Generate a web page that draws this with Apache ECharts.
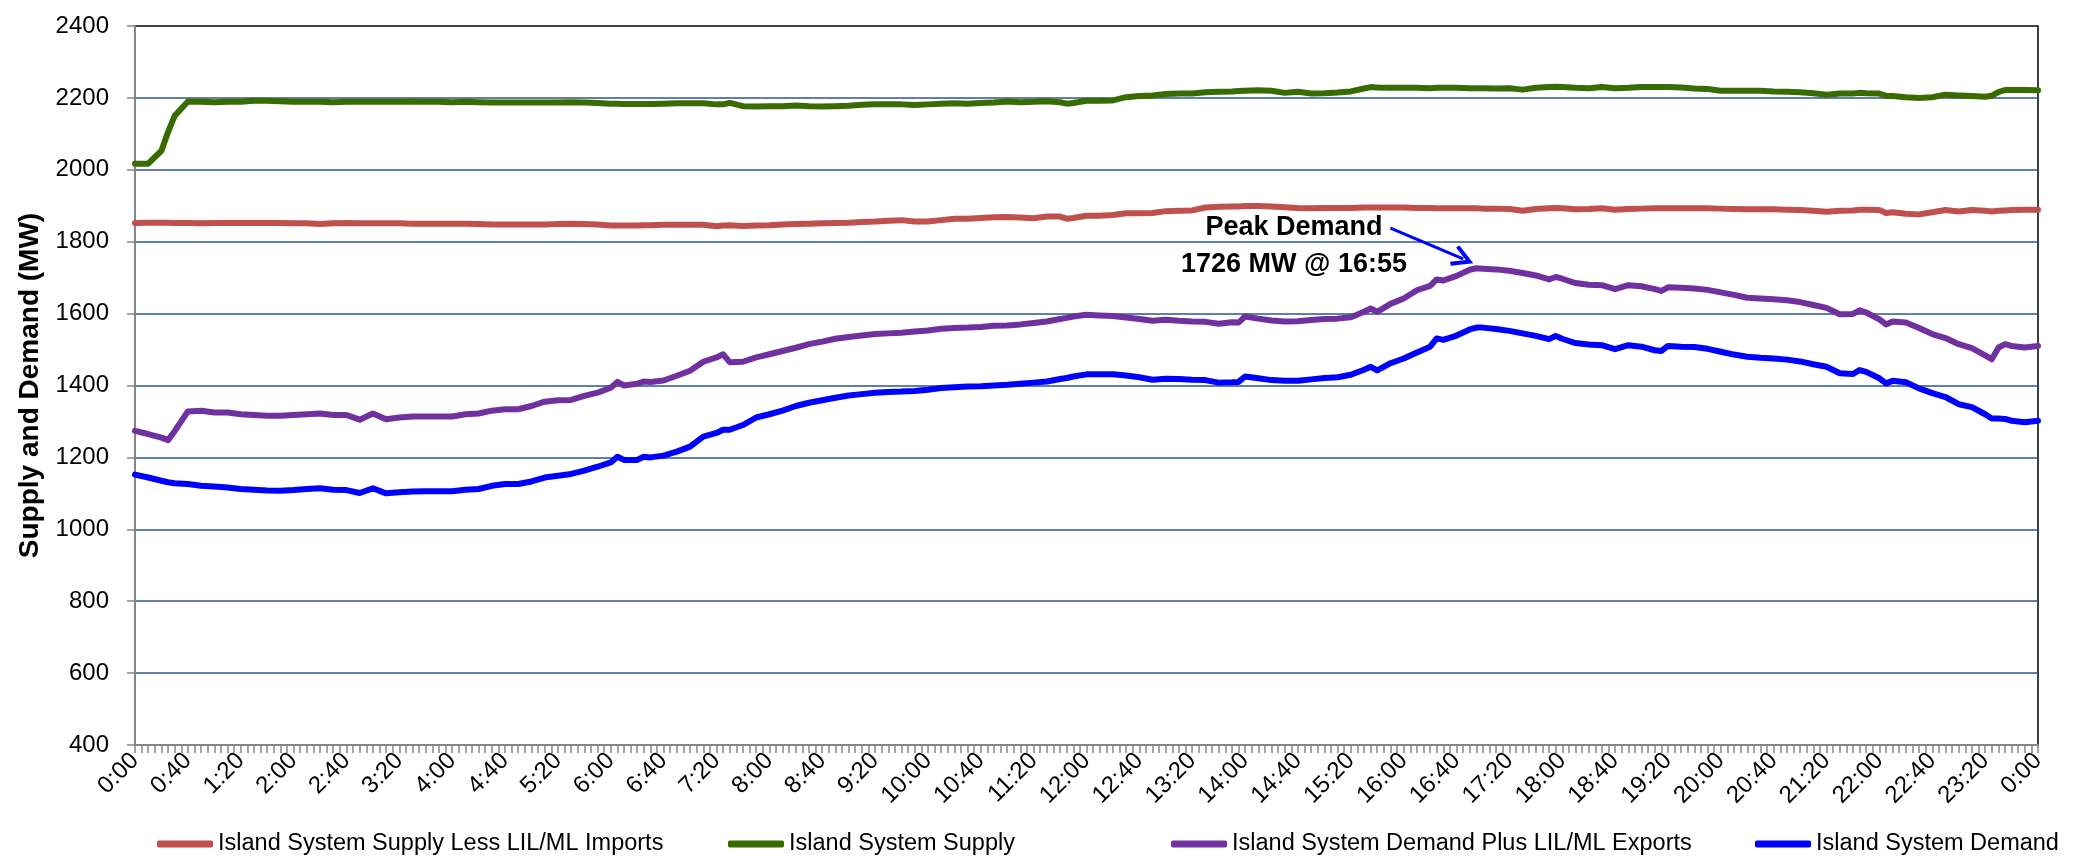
<!DOCTYPE html>
<html>
<head>
<meta charset="utf-8">
<title>Island System Supply and Demand</title>
<script src="https://cdn.jsdelivr.net/npm/echarts@6/dist/echarts.min.js"></script>
<style>
  html, body { margin: 0; padding: 0; background: #fff; }
  #chart { width: 2082px; height: 856px; }
</style>
</head>
<body>
<div id="chart"></div>
<script>
// reading times (H:MM) - 10 min steps, plus a few extra points where the lines dip or spike
var times = [
  '0:00','0:10','0:20','0:25','0:30','0:40','0:50','1:00','1:10','1:20','1:30','1:40','1:50','2:00','2:10','2:20','2:30','2:40','2:50','3:00','3:10','3:20','3:30','3:40','3:50','4:00',
  '4:10','4:20','4:30','4:40','4:50','5:00','5:10','5:20','5:30','5:40','5:50','6:00','6:05','6:10','6:20','6:25','6:30','6:40','6:50','7:00','7:10','7:20','7:25','7:30','7:40','7:50','8:00',
  '8:10','8:20','8:30','8:40','8:50','9:00','9:10','9:20','9:30','9:40','9:50','10:00','10:10','10:20','10:30','10:40','10:50','11:00','11:10','11:20','11:30','11:40','11:45','11:50','12:00',
  '12:10','12:20','12:30','12:40','12:50','13:00','13:10','13:20','13:30','13:40','13:50','13:55','14:00','14:10','14:20','14:30','14:40','14:50','15:00','15:10','15:20','15:30','15:35','15:40','15:50','16:00',
  '16:10','16:20','16:25','16:30','16:40','16:50','16:55','17:00','17:10','17:20','17:30','17:40','17:50','17:55','18:00','18:10','18:20','18:30','18:40','18:50','19:00','19:10','19:15','19:20','19:30','19:40','19:50','20:00',
  '20:10','20:20','20:30','20:40','20:50','21:00','21:10','21:20','21:30','21:40','21:45','21:50','22:00','22:05','22:10','22:20','22:30','22:40','22:50','23:00','23:10','23:20','23:25','23:30','23:35','23:40','23:50','24:00'
];

// MW
var supplyLessImports = [
  1852,1853,1853,1853,1852,1852,1851,1852,1852,1852,1852,1852,1852,1851,1851,1849,1851,1852,1851,1851,1851,1851,1850,1850,1850,1850,
  1850,1849,1848,1848,1848,1848,1848,1849,1850,1849,1848,1845,1845,1845,1845,1846,1846,1847,1847,1847,1847,1843,1845,1846,1844,1845,1846,
  1848,1849,1850,1851,1852,1853,1855,1856,1858,1860,1856,1856,1860,1864,1864,1866,1868,1869,1867,1865,1870,1870,1864,1866,1872,
  1872,1874,1879,1879,1880,1885,1886,1887,1895,1897,1898,1898,1899,1899,1898,1896,1894,1893,1894,1894,1894,1895,1895,1895,1895,1895,
  1894,1894,1893,1893,1893,1893,1893,1892,1892,1891,1886,1891,1893,1894,1893,1890,1891,1893,1889,1891,1892,1893,1893,1893,1893,1893,1893,1892,
  1891,1890,1890,1890,1889,1888,1886,1883,1886,1887,1889,1889,1888,1880,1882,1878,1876,1882,1888,1884,1888,1886,1884,1886,1887,1888,1889,1889
];
var supply = [
  2017,2017,2053,2105,2150,2190,2189,2188,2189,2189,2192,2192,2191,2189,2189,2189,2188,2189,2189,2189,2189,2189,2190,2189,2189,2188,
  2189,2188,2187,2187,2187,2187,2187,2187,2188,2187,2186,2184,2184,2183,2183,2183,2183,2184,2185,2185,2185,2182,2182,2186,2177,2176,2177,
  2177,2179,2177,2176,2177,2178,2181,2182,2182,2182,2180,2182,2184,2185,2184,2186,2187,2190,2188,2189,2191,2188,2184,2186,2192,
  2192,2193,2202,2205,2207,2211,2212,2212,2216,2217,2218,2219,2220,2221,2220,2214,2217,2212,2213,2215,2218,2226,2230,2229,2228,2228,
  2228,2227,2228,2228,2228,2227,2227,2227,2226,2227,2223,2228,2230,2231,2230,2228,2227,2230,2227,2228,2230,2230,2230,2230,2229,2226,2225,2220,
  2220,2220,2220,2218,2217,2216,2213,2209,2212,2212,2214,2213,2212,2206,2205,2202,2200,2202,2209,2207,2205,2203,2206,2216,2222,2222,2222,2221
];
var demandPlusExports = [
  1274,1265,1255,1248,1273,1328,1330,1325,1325,1320,1318,1316,1316,1318,1320,1322,1318,1318,1305,1322,1306,1311,1314,1314,1314,1314,
  1320,1322,1330,1334,1334,1343,1355,1359,1360,1371,1380,1394,1410,1400,1405,1411,1410,1414,1427,1441,1466,1478,1487,1465,1466,1478,1487,
  1496,1505,1515,1522,1530,1535,1539,1543,1545,1547,1550,1553,1558,1560,1561,1563,1566,1567,1570,1574,1578,1585,1588,1592,1597,
  1595,1593,1589,1585,1580,1583,1580,1578,1577,1572,1576,1575,1592,1586,1581,1578,1579,1582,1585,1586,1590,1605,1614,1605,1627,1642,
  1665,1677,1695,1692,1705,1722,1726,1725,1723,1719,1713,1706,1695,1702,1697,1685,1680,1679,1668,1679,1676,1668,1663,1673,1672,1670,1666,1659,
  1652,1644,1642,1640,1637,1632,1624,1616,1598,1599,1609,1603,1584,1570,1578,1575,1560,1543,1532,1515,1504,1484,1473,1505,1515,1510,1506,1510
];
var demand = [
  1152,1144,1135,1131,1128,1126,1121,1119,1116,1112,1110,1108,1107,1109,1112,1114,1110,1109,1101,1114,1100,1103,1105,1106,1106,1106,
  1110,1112,1121,1126,1126,1133,1144,1149,1154,1163,1174,1186,1202,1193,1193,1202,1200,1205,1216,1230,1258,1268,1277,1277,1290,1311,1320,
  1330,1343,1352,1359,1366,1372,1376,1380,1382,1383,1385,1388,1393,1395,1397,1398,1400,1402,1405,1408,1411,1418,1421,1425,1431,
  1431,1431,1428,1423,1416,1419,1418,1416,1415,1408,1409,1410,1425,1420,1415,1413,1413,1417,1421,1423,1430,1444,1452,1442,1462,1475,
  1492,1508,1531,1527,1539,1556,1561,1561,1557,1552,1545,1538,1529,1538,1530,1518,1514,1512,1501,1512,1508,1498,1496,1510,1508,1507,1502,1494,
  1486,1480,1477,1475,1472,1467,1459,1452,1434,1432,1443,1438,1420,1406,1413,1409,1392,1379,1368,1348,1340,1320,1308,1308,1307,1302,1298,1302
];

var seriesNames = [
  'Island System Supply Less LIL/ML Imports',
  'Island System Supply',
  'Island System Demand Plus LIL/ML Exports',
  'Island System Demand'
];
var seriesColors = ['#C0504D', '#386B00', '#7030A0', '#0000FF'];
var legendLeft = [157, 728, 1171, 1755];

// peak annotation arrow, in data units [minutes, MW]
var peakArrowFrom = [950, 1838];
var peakArrowTo = [1005, 1752];

var FONT = '"Liberation Sans", Arial, sans-serif';

function toMin(s) {
  var p = s.split(':');
  return (+p[0]) * 60 + (+p[1]);
}
function pad(n) { return n < 10 ? '0' + n : '' + n; }
function fmtTime(v) {
  return (Math.floor(v / 60) % 24) + ':' + pad(v % 60);
}

var mins = times.map(toMin);
function pairs(values) {
  return values.map(function (v, i) { return [mins[i], v]; });
}

var chart = echarts.init(document.getElementById('chart'));

var allValues = [supplyLessImports, supply, demandPlusExports, demand];
var series = allValues.map(function (vals, i) {
  var s = {
    name: seriesNames[i],
    type: 'line',
    data: pairs(vals),
    showSymbol: false,
    symbol: 'none',
    color: seriesColors[i],
    itemStyle: { color: seriesColors[i] },
    lineStyle: { color: seriesColors[i], width: 6, cap: 'round', join: 'round' },
    animation: false
  };
  if (i === 2) {
    s.markLine = {
      silent: true,
      animation: false,
      symbol: ['none', 'path://M10,0 L20,17 L17,19 L10,7 L3,19 L0,17 Z'],
      symbolSize: [22, 22],
      lineStyle: { color: '#0000FF', width: 3, type: 'solid' },
      label: { show: false },
      data: [[{ coord: peakArrowFrom }, { coord: peakArrowTo }]]
    };
  }
  return s;
});

var legends = seriesNames.map(function (name, i) {
  return {
    data: [name],
    left: legendLeft[i],
    top: 832,
    padding: 0,
    itemGap: 0,
    itemWidth: 56,
    itemHeight: 7,
    icon: 'roundRect',
    selectedMode: false,
    textStyle: { fontSize: 23.5, fontFamily: FONT, color: '#000' }
  };
});

var option = {
  backgroundColor: '#fff',
  animation: false,
  grid: {
    left: 135, right: 44, top: 26, bottom: 111,
    show: true, borderColor: '#000', borderWidth: 1.5
  },
  legend: legends,
  xAxis: {
    type: 'value',
    min: 0, max: 1440, interval: 40,
    axisLine: { show: true, onZero: false, lineStyle: { color: '#868686', width: 2 } },
    axisTick: { show: true, length: 8, lineStyle: { color: '#868686', width: 1.5 } },
    minorTick: { show: true, splitNumber: 8, length: 8, lineStyle: { color: '#868686', width: 1.5 } },
    splitLine: { show: false },
    axisLabel: {
      rotate: 45, margin: 12, fontSize: 24, fontFamily: FONT, color: '#000',
      showMinLabel: true, showMaxLabel: true,
      formatter: fmtTime
    }
  },
  yAxis: {
    type: 'value',
    min: 400, max: 2400, interval: 200,
    name: 'Supply and Demand (MW)',
    nameLocation: 'middle',
    nameGap: 90,
    nameTextStyle: { fontSize: 28, fontWeight: 'bold', fontFamily: FONT, color: '#000' },
    axisLine: { show: true, lineStyle: { color: '#868686', width: 2 } },
    axisTick: { show: true, length: 8, lineStyle: { color: '#868686', width: 1.5 } },
    axisLabel: {
      margin: 26, fontSize: 24, fontFamily: FONT, color: '#000',
      formatter: function (v) { return String(v); }
    },
    splitLine: {
      show: true, showMinLine: false, showMaxLine: false,
      lineStyle: { color: '#2E5590', width: 1.5 }
    }
  },
  graphic: [
    {
      type: 'text', x: 1294, y: 228, z: 100,
      style: { text: 'Peak Demand', fontSize: 27, fontWeight: 'bold', fontFamily: FONT,
               fill: '#000', align: 'center', verticalAlign: 'middle' }
    },
    {
      type: 'text', x: 1294, y: 265, z: 100,
      style: { text: '1726 MW @ 16:55', fontSize: 27, fontWeight: 'bold', fontFamily: FONT,
               fill: '#000', align: 'center', verticalAlign: 'middle' }
    }
  ],
  series: series
};

chart.setOption(option);
</script>
</body>
</html>
